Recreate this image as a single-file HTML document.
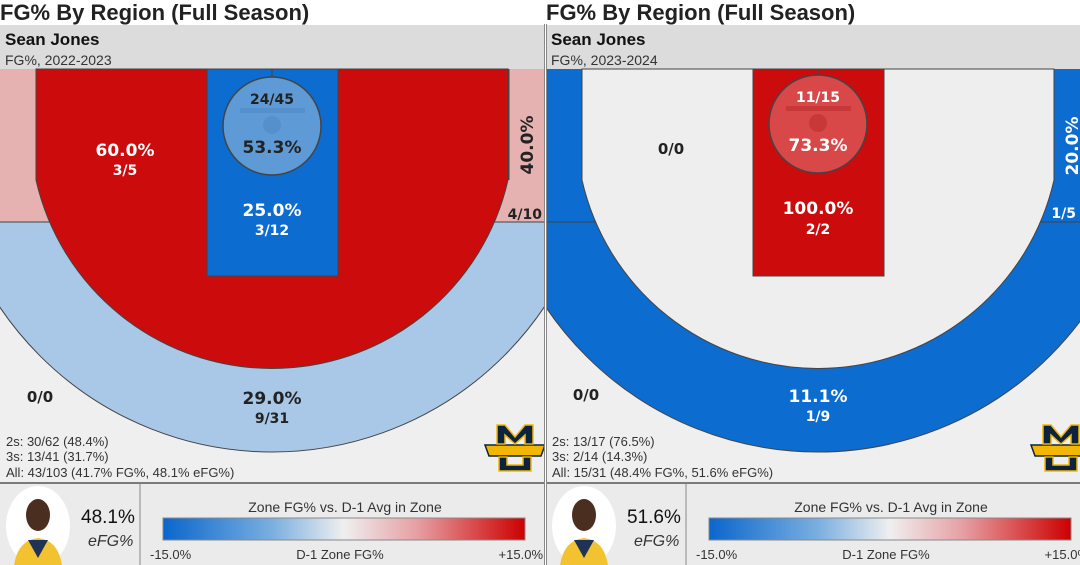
<!DOCTYPE html>
<html><head><meta charset="utf-8"><style>
html,body{margin:0;padding:0;background:#fff;width:1080px;height:565px;overflow:hidden}
svg{display:block}
text{font-family:"Liberation Sans","DejaVu Sans",sans-serif}
.v{font-family:"DejaVu Sans","Liberation Sans",sans-serif;font-weight:bold}
</style></head><body>
<svg width="1080" height="565" viewBox="0 0 1080 565" xmlns="http://www.w3.org/2000/svg">
<defs>
<linearGradient id="lg" x1="0" x2="1" y1="0" y2="0">
<stop offset="0" stop-color="#0a66cc"/><stop offset="0.3" stop-color="#7aaee0"/><stop offset="0.5" stop-color="#efefef"/><stop offset="0.7" stop-color="#e6a0a4"/><stop offset="1" stop-color="#cc0000"/>
</linearGradient>
<clipPath id="cl"><rect x="0" y="222" width="545" height="261"/></clipPath>
<clipPath id="pc"><rect x="0" y="0" width="545" height="565"/></clipPath>
<g id="logo">
<path d="M-30,-2 L30,-2 L26,9 L-26,9 Z" fill="#f2b705" stroke="#0c2340" stroke-width="1.5"/>
<path d="M-18,-22 L-10,-22 L0,-10 L10,-22 L18,-22 L18,-3 L10,-3 L10,-12 L0,-3 L-10,-12 L-10,-3 L-18,-3 Z" fill="#0c2340" stroke="#f2b705" stroke-width="1.5"/>
<path d="M-16,10 L-8,10 L-8,18 L8,18 L8,10 L16,10 L16,24 L-16,24 Z" fill="#0c2340" stroke="#f2b705" stroke-width="1.5"/>
</g>
</defs>

<!-- LEFT PANEL -->
<g clip-path="url(#pc)">
<text x="0" y="20" font-size="22" font-weight="bold" fill="#222">FG% By Region (Full Season)</text>
<rect x="0" y="25" width="545" height="44" fill="#dcdcdc"/>
<text x="5" y="45" font-size="17" font-weight="bold" fill="#111">Sean Jones</text>
<text x="5" y="65" font-size="14" fill="#333">FG%, 2022-2023</text>
<rect x="0" y="69" width="545" height="414" fill="#efefef"/>
<circle cx="272" cy="124" r="328" fill="#a9c7e6" stroke="#444" clip-path="url(#cl)"/>
<rect x="0" y="69" width="545" height="153" fill="#e5b1b1"/>
<line x1="0" y1="222" x2="545" y2="222" stroke="#444"/>
<line x1="36" y1="69" x2="36" y2="180" stroke="#444"/>
<line x1="509" y1="69" x2="509" y2="180" stroke="#444"/>
<path d="M36,69 L36,180 A242,242 0 0 0 508,180 L508,69 Z" fill="#cc0c0c" stroke="#444"/>
<rect x="207" y="69" width="131" height="207" fill="#0d6ccf" stroke="#444"/>
<line x1="272" y1="69" x2="272" y2="77" stroke="#444"/>
<circle cx="272" cy="126" r="49" fill="#5e9bd6" stroke="#444" stroke-width="1.5"/>
<rect x="240" y="108" width="65" height="5" fill="#5590cc"/>
<circle cx="272" cy="125" r="9" fill="#5590cc"/>
<text class="v" x="272" y="104" font-size="14" fill="#222" text-anchor="middle">24/45</text>
<text class="v" x="272" y="153" font-size="17" fill="#222" text-anchor="middle">53.3%</text>
<text class="v" x="125" y="156" font-size="17" fill="#fff" text-anchor="middle">60.0%</text>
<text class="v" x="125" y="175" font-size="14" fill="#fff" text-anchor="middle">3/5</text>
<text class="v" x="272" y="216" font-size="17" fill="#fff" text-anchor="middle">25.0%</text>
<text class="v" x="272" y="235" font-size="14" fill="#fff" text-anchor="middle">3/12</text>
<text class="v" transform="translate(533,145) rotate(-90)" font-size="17" fill="#222" text-anchor="middle">40.0%</text>
<text class="v" x="542" y="219" font-size="14" fill="#222" text-anchor="end">4/10</text>
<text class="v" x="272" y="404" font-size="17" fill="#222" text-anchor="middle">29.0%</text>
<text class="v" x="272" y="423" font-size="14" fill="#222" text-anchor="middle">9/31</text>
<text class="v" x="40" y="402" font-size="15" fill="#222" text-anchor="middle">0/0</text>
<text x="6" y="446" font-size="13" fill="#333">2s: 30/62 (48.4%)</text>
<text x="6" y="461" font-size="13" fill="#333">3s: 13/41 (31.7%)</text>
<text x="6" y="477" font-size="13" fill="#333">All: 43/103 (41.7% FG%, 48.1% eFG%)</text>
<use href="#logo" transform="translate(515,447)"/>
<rect x="0" y="483" width="545" height="82" fill="#ebebeb"/>
<line x1="0" y1="483" x2="545" y2="483" stroke="#555" stroke-width="1.5"/>
<line x1="140" y1="484" x2="140" y2="565" stroke="#888"/>
<line x1="544.5" y1="24" x2="544.5" y2="565" stroke="#888"/>
<ellipse cx="38" cy="526" rx="32" ry="40" fill="#fff"/>
<ellipse cx="38" cy="515" rx="12" ry="16" fill="#4a2e20"/>
<path d="M14,565 Q18,540 38,538 Q58,540 62,565 Z" fill="#f2c230"/>
<path d="M28,540 L38,558 L48,540 Z" fill="#1e3356"/>
<text x="81" y="523" font-size="19" fill="#111">48.1%</text>
<text x="88" y="546" font-size="16" font-style="italic" fill="#333">eFG%</text>
<text x="345" y="512" font-size="14" fill="#333" text-anchor="middle">Zone FG% vs. D-1 Avg in Zone</text>
<rect x="163" y="518" width="362" height="22" fill="url(#lg)" stroke="#888"/>
<text x="150" y="559" font-size="13" fill="#333">-15.0%</text>
<text x="340" y="559" font-size="13" fill="#333" text-anchor="middle">D-1 Zone FG%</text>
<text x="543" y="559" font-size="13" fill="#333" text-anchor="end">+15.0%</text>
</g>

<!-- RIGHT PANEL -->
<g transform="translate(546,0)" clip-path="url(#pc)">
<text x="0" y="20" font-size="22" font-weight="bold" fill="#222">FG% By Region (Full Season)</text>
<rect x="0" y="25" width="545" height="44" fill="#dcdcdc"/>
<text x="5" y="45" font-size="17" font-weight="bold" fill="#111">Sean Jones</text>
<text x="5" y="65" font-size="14" fill="#333">FG%, 2023-2024</text>
<rect x="0" y="69" width="545" height="414" fill="#efefef"/>
<circle cx="272" cy="124" r="328" fill="#0d6ccf" stroke="#444" clip-path="url(#cl)"/>
<rect x="0" y="69" width="545" height="153" fill="#0d6ccf"/>
<line x1="0" y1="222" x2="545" y2="222" stroke="#444"/>
<path d="M36,69 L36,180 A242,242 0 0 0 508,180 L508,69 Z" fill="#eeeeee" stroke="#444"/>
<rect x="207" y="69" width="131" height="207" fill="#cc0c0c" stroke="#444"/>
<line x1="272" y1="69" x2="272" y2="77" stroke="#444"/>
<circle cx="272" cy="124" r="49" fill="#d94848" stroke="#444" stroke-width="1.5"/>
<rect x="240" y="106" width="65" height="5" fill="#c83838"/>
<circle cx="272" cy="123" r="9" fill="#c83838"/>
<text class="v" x="272" y="102" font-size="14" fill="#fff" text-anchor="middle">11/15</text>
<text class="v" x="272" y="151" font-size="17" fill="#fff" text-anchor="middle">73.3%</text>
<text class="v" x="125" y="154" font-size="15" fill="#222" text-anchor="middle">0/0</text>
<text class="v" x="272" y="214" font-size="17" fill="#fff" text-anchor="middle">100.0%</text>
<text class="v" x="272" y="234" font-size="14" fill="#fff" text-anchor="middle">2/2</text>
<text class="v" transform="translate(532,146) rotate(-90)" font-size="17" fill="#fff" text-anchor="middle">20.0%</text>
<text class="v" x="530" y="218" font-size="14" fill="#fff" text-anchor="end">1/5</text>
<text class="v" x="272" y="402" font-size="17" fill="#fff" text-anchor="middle">11.1%</text>
<text class="v" x="272" y="421" font-size="14" fill="#fff" text-anchor="middle">1/9</text>
<text class="v" x="40" y="400" font-size="15" fill="#222" text-anchor="middle">0/0</text>
<text x="6" y="446" font-size="13" fill="#333">2s: 13/17 (76.5%)</text>
<text x="6" y="461" font-size="13" fill="#333">3s: 2/14 (14.3%)</text>
<text x="6" y="477" font-size="13" fill="#333">All: 15/31 (48.4% FG%, 51.6% eFG%)</text>
<use href="#logo" transform="translate(515,447)"/>
<rect x="0" y="483" width="545" height="82" fill="#ebebeb"/>
<line x1="0" y1="483" x2="545" y2="483" stroke="#555" stroke-width="1.5"/>
<line x1="140" y1="484" x2="140" y2="565" stroke="#888"/>
<line x1="0.5" y1="24" x2="0.5" y2="565" stroke="#888"/>
<ellipse cx="38" cy="526" rx="32" ry="40" fill="#fff"/>
<ellipse cx="38" cy="515" rx="12" ry="16" fill="#4a2e20"/>
<path d="M14,565 Q18,540 38,538 Q58,540 62,565 Z" fill="#f2c230"/>
<path d="M28,540 L38,558 L48,540 Z" fill="#1e3356"/>
<text x="81" y="523" font-size="19" fill="#111">51.6%</text>
<text x="88" y="546" font-size="16" font-style="italic" fill="#333">eFG%</text>
<text x="345" y="512" font-size="14" fill="#333" text-anchor="middle">Zone FG% vs. D-1 Avg in Zone</text>
<rect x="163" y="518" width="362" height="22" fill="url(#lg)" stroke="#888"/>
<text x="150" y="559" font-size="13" fill="#333">-15.0%</text>
<text x="340" y="559" font-size="13" fill="#333" text-anchor="middle">D-1 Zone FG%</text>
<text x="543" y="559" font-size="13" fill="#333" text-anchor="end">+15.0%</text>
</g>
</svg>
</body></html>
